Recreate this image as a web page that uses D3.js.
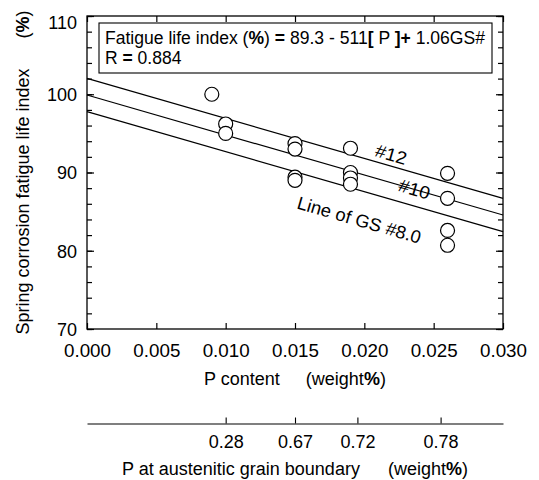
<!DOCTYPE html>
<html><head><meta charset="utf-8">
<script src="https://cdn.jsdelivr.net/npm/d3@7"></script>
<style>
body{margin:0;background:#fff}
text{font-family:"Liberation Sans",Arial,sans-serif;fill:#000}
</style></head>
<body><svg id="c" width="539" height="480"></svg>
<script>
// ---- data ----
const pContent = [0.009, 0.010, 0.010, 0.015, 0.015, 0.015, 0.015, 0.019, 0.019, 0.019, 0.019, 0.026, 0.026, 0.026, 0.026];
const fatigueIndex = [100.0, 96.2, 95.0, 93.7, 93.0, 89.4, 89.0, 93.1, 90.0, 89.3, 88.5, 89.9, 86.7, 82.6, 80.7];
const fitIntercept = 89.3, fitSlopeP = -511, fitCoefGS = 1.06;
const grainSizes = [12, 10, 8];
const lineLabels = ["#12", "#10", "Line of GS #8.0"];
const xTicks = [0, 0.005, 0.010, 0.015, 0.020, 0.025, 0.030];
const yTicks = [70, 80, 90, 100, 110];
const yMinorTicks = d3.range(70, 111, 2);
const gbTickP = [0.010, 0.015, 0.0195, 0.0255];
const gbTickLabels = ["0.28", "0.67", "0.72", "0.78"];

// ---- layout ----
const svg = d3.select("#c");
const L = 87, R = 503, T = 16, B = 329;
const x = d3.scaleLinear().domain([0, 0.03]).range([L, R]);
const y = d3.scaleLinear().domain([70, 110]).range([B, T]);
const fit = (p, gs) => fitIntercept + fitSlopeP * p + fitCoefGS * gs;
const FS = 18;

// axes (ticks inward)
const tickStyle = g => { g.select(".domain").remove(); g.selectAll("line").attr("stroke", "#000").attr("stroke-width", 1.2); g.selectAll("text").attr("font-size", FS).attr("font-family", '"Liberation Sans",Arial,sans-serif'); };
svg.append("g").attr("transform", `translate(0,${B})`)
  .call(d3.axisBottom(x).tickValues(xTicks).tickFormat(d3.format(".3f")).tickSize(-6).tickPadding(15)).call(tickStyle)
  .selectAll("text").attr("textLength", 47).attr("lengthAdjust", "spacingAndGlyphs").attr("x", -23.5).attr("text-anchor", "start");
svg.append("g").attr("transform", `translate(0,${T})`)
  .call(d3.axisTop(x).tickValues(xTicks).tickFormat("").tickSize(-6)).call(tickStyle);
svg.append("g").attr("transform", `translate(${L},0)`)
  .call(d3.axisLeft(y).tickValues(yMinorTicks).tickFormat("").tickSize(-5)).call(tickStyle);
svg.append("g").attr("transform", `translate(${L},0)`)
  .call(d3.axisLeft(y).tickValues(yTicks).tickFormat(d3.format("d")).tickSize(-7).tickPadding(10)).call(tickStyle)
  .selectAll("text").attr("dy", d => d === 110 ? "0.68em" : "0.36em");
svg.append("g").attr("transform", `translate(${R},0)`)
  .call(d3.axisRight(y).tickValues(yMinorTicks).tickFormat("").tickSize(-5)).call(tickStyle);
svg.append("g").attr("transform", `translate(${R},0)`)
  .call(d3.axisRight(y).tickValues(yTicks).tickFormat("").tickSize(-7)).call(tickStyle);

// frame
svg.append("rect").attr("x", L).attr("y", T).attr("width", R - L).attr("height", B - T)
  .attr("fill", "none").attr("stroke", "#000").attr("stroke-width", 1.3);

// line labels (under the lines)
const ang = Math.atan2(y(fit(0.03, 10)) - y(fit(0, 10)), x(0.03) - x(0)) * 180 / Math.PI;
const labelP = [0.0217, 0.0236, 0.0202];
const labelOff = [-5, 6, 35];
const labelLen = [32, 32, 128];
lineLabels.forEach((t, i) => {
  const px = x(labelP[i]), py = y(fit(labelP[i], grainSizes[i]));
  svg.append("text").attr("transform", `translate(${px},${py}) rotate(${ang}) translate(0,${labelOff[i]})`)
    .attr("text-anchor", "middle").attr("font-size", FS)
    .attr("textLength", labelLen[i]).attr("lengthAdjust", "spacingAndGlyphs").text(t);
});

// fit lines
svg.append("g").selectAll("line").data(grainSizes).join("line")
  .attr("x1", x(0)).attr("x2", x(0.03))
  .attr("y1", gs => y(fit(0, gs))).attr("y2", gs => y(fit(0.03, gs)))
  .attr("stroke", "#000").attr("stroke-width", 1.2);

// points
svg.append("g").selectAll("circle").data(pContent).join("circle")
  .attr("cx", d => x(d)).attr("cy", (d, i) => y(fatigueIndex[i])).attr("r", 7)
  .attr("fill", "#fff").attr("stroke", "#000").attr("stroke-width", 1.2);

// legend box
svg.append("rect").attr("x", 99).attr("y", 23).attr("width", 393).attr("height", 50)
  .attr("fill", "#fff").attr("stroke", "#000").attr("stroke-width", 1.1);
const l1 = svg.append("text").attr("x", 105).attr("y", 44).attr("font-size", 17.5)
  .attr("textLength", 380).attr("lengthAdjust", "spacingAndGlyphs");
[["Fatigue life index (", 0], ["%", 1], [") ", 0], ["=", 1], [" 89.3 - 511", 0], ["[", 1], [" P ", 0], ["]+", 1], [" 1.06GS#", 0]]
  .forEach(([s, b]) => l1.append("tspan").attr("font-weight", b ? "bold" : "normal").text(s));
const l2 = svg.append("text").attr("x", 105).attr("y", 64).attr("font-size", 17.5);
l2.append("tspan").text("R ");
l2.append("tspan").attr("font-weight", "bold").text("=");
l2.append("tspan").text(" 0.884");

// axis titles
const xt = svg.append("text").attr("x", (L + R) / 2).attr("y", 385).attr("text-anchor", "middle").attr("font-size", FS);
xt.append("tspan").text("P content");
xt.append("tspan").attr("dx", 26).text("(weight");
xt.append("tspan").attr("font-weight", "bold").text("%");
xt.append("tspan").text(")");

const yt = svg.append("text").attr("transform", `translate(29,${(T + B) / 2}) rotate(-90)`).attr("text-anchor", "middle").attr("font-size", FS);
yt.append("tspan").text("Spring corrosion fatigue life index");
yt.append("tspan").attr("dx", 30).text("(");
yt.append("tspan").attr("font-weight", "bold").text("%");
yt.append("tspan").text(")");

// secondary axis: P at austenitic grain boundary
svg.append("g").attr("transform", `translate(0,423.5)`)
  .call(d3.axisBottom(x).tickValues(gbTickP).tickFormat((d, i) => gbTickLabels[i]).tickSize(-6).tickSizeOuter(0).tickPadding(12))
  .call(g => { g.selectAll("line,path").attr("stroke", "#000").attr("stroke-width", 1.1); g.selectAll("text").attr("font-size", FS).attr("font-family", '"Liberation Sans",Arial,sans-serif'); });
const st = svg.append("text").attr("x", 295).attr("y", 475).attr("text-anchor", "middle").attr("font-size", FS);
st.append("tspan").text("P at austenitic grain boundary");
st.append("tspan").attr("dx", 28).text("(weight");
st.append("tspan").attr("font-weight", "bold").text("%");
st.append("tspan").text(")");
</script></body></html>
